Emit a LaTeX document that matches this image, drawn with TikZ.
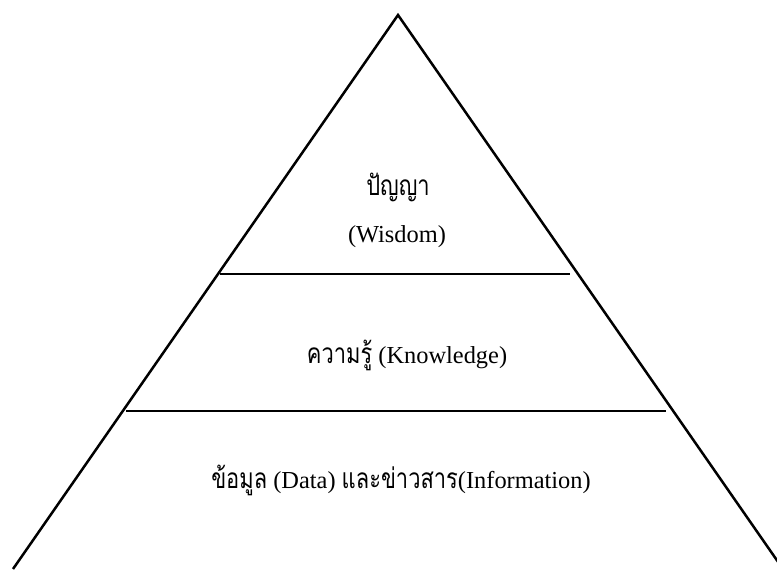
\documentclass[tikz,border=0pt]{standalone}
\usepackage{fontspec}
\setmainfont{Liberation Serif}
\newfontfamily\thaifont[Script=Thai,Scale=1.15,FakeStretch=0.78]{Loma}
\newlength{\du}
\setlength{\du}{0.75pt}

\begin{document}
\begin{tikzpicture}
\pgftransformxscale{1.000000}
\pgftransformyscale{-1.000000}
\useasboundingbox (0\du,0\du) rectangle (777\du,569\du);
\clip (0\du,0\du) rectangle (777\du,569\du);
\definecolor{dialinecolor}{rgb}{0.000000, 0.000000, 0.000000}
\pgfsetstrokecolor{dialinecolor}
\coordinate (apex) at (398.000000\du,15.000000\du);
\coordinate (baseleft) at (13.000000\du,569.000000\du);
\coordinate (baseright) at (783.000000\du,569.000000\du);
% pyramid
\pgfsetlinewidth{2.500000\du}
\pgfsetdash{}{0pt}
\pgfsetmiterjoin
\draw (baseleft)--(apex)--(baseright);
% levels
\pgfsetlinewidth{1.300000\du}
\pgfsetbuttcap
\coordinate (upperleft) at (220.000000\du,274.000000\du);
\coordinate (upperright) at (570.000000\du,274.000000\du);
\draw (upperleft)--(upperright);
\coordinate (lowerleft) at (126.000000\du,411.000000\du);
\coordinate (lowerright) at (666.000000\du,411.000000\du);
\draw (lowerleft)--(lowerright);
% setfont left to latex
\fontsize{18.3}{22}\selectfont
\node[anchor=base] (wisdomth) at (398.000000\du,195.000000\du){\thaifont ปัญญา};
\node[anchor=base] (wisdom) at (397.000000\du,242.000000\du){(Wisdom)};
\node[anchor=base] (knowledge) at (407.000000\du,363.000000\du){{\thaifont ความรู้} (Knowledge)};
\node[anchor=base] (data) at (401.000000\du,488.000000\du){{\thaifont ข้อมูล} (Data) {\thaifont และข่าวสาร}(Information)};
\end{tikzpicture}
\end{document}
